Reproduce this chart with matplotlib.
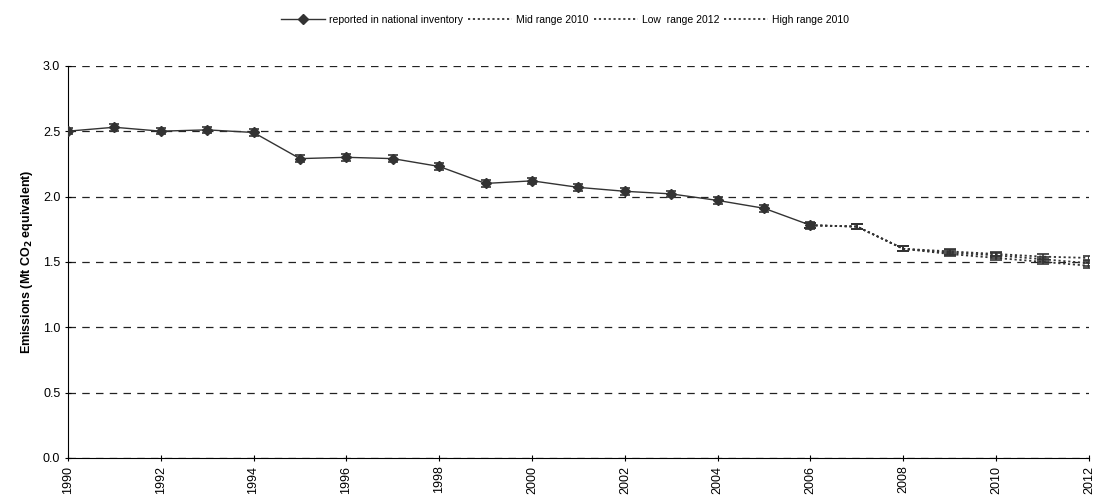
import numpy as np
import matplotlib.pyplot as plt
from matplotlib.ticker import MultipleLocator

plt.rcParams['font.family'] = ['Liberation Sans', 'DejaVu Sans']

# Inventory series 1990-2006
years_inv = list(range(1990, 2007))
inventory = [2.50, 2.53, 2.50, 2.51, 2.49, 2.29, 2.30, 2.29, 2.23, 2.10,
             2.12, 2.07, 2.04, 2.02, 1.97, 1.91, 1.78]
inv_err = [0.025] * len(inventory)

# Projection scenarios 2006-2012
years_proj = list(range(2006, 2013))
mid_2010 = [1.78, 1.77, 1.60, 1.57, 1.55, 1.52, 1.49]
low_2012 = [1.78, 1.77, 1.60, 1.56, 1.53, 1.50, 1.47]
high_2010 = [1.78, 1.77, 1.60, 1.58, 1.56, 1.54, 1.53]
proj_err = [0.018] * len(mid_2010)

dark = '#333333'

fig = plt.figure(figsize=(10.95, 4.95), dpi=100)
ax = fig.add_axes([0.062, 0.075, 0.9325, 0.792])

ax.errorbar(years_inv, inventory, yerr=inv_err, color=dark, lw=1.0,
            marker='D', ms=5, mfc=dark, mec=dark, capsize=3.5, elinewidth=1.2,
            capthick=1.2, label='reported in national inventory', zorder=4)
ax.errorbar(years_proj, mid_2010, yerr=proj_err, color=dark, lw=1.3,
            ls=(0, (1.2, 1.5)), capsize=4, elinewidth=1.2, capthick=1.2,
            label='Mid range 2010', zorder=3)
ax.errorbar(years_proj, low_2012, yerr=proj_err, color=dark, lw=1.3,
            ls=(0, (1.2, 1.5)), capsize=4, elinewidth=1.2, capthick=1.2,
            label='Low  range 2012', zorder=3)
ax.errorbar(years_proj, high_2010, yerr=proj_err, color=dark, lw=1.3,
            ls=(0, (1.2, 1.5)), capsize=4, elinewidth=1.2, capthick=1.2,
            label='High range 2010', zorder=3)

ax.set_xlim(1990, 2012)
ax.set_ylim(0, 3.0)
ax.set_xticks(range(1990, 2013, 2))
ax.set_xticklabels([str(y) for y in range(1990, 2013, 2)], rotation=90, fontsize=9)
ax.yaxis.set_major_locator(MultipleLocator(0.5))
ax.yaxis.set_major_formatter(plt.FormatStrFormatter('%.1f'))
ax.tick_params(axis='y', labelsize=9, length=4, direction='inout')
ax.tick_params(axis='x', length=4, direction='inout')
ax.yaxis.grid(True, color='#222222', ls=(0, (6, 5)), lw=0.9)
ax.set_axisbelow(True)
for s in ('top', 'right'):
    ax.spines[s].set_visible(False)
ax.set_ylabel('Emissions (Mt CO$_\\mathbf{2}$ equivalent)', fontsize=9,
              fontweight='bold', labelpad=6)

handles, labels = ax.get_legend_handles_labels()
handles = [h[0] for h in handles]
ax.legend(handles, labels, loc='center', bbox_to_anchor=(0.487, 1.117),
          ncol=4, frameon=False, fontsize=7.5, handlelength=4.2,
          columnspacing=0.5, handletextpad=0.4)

fig.savefig('out.png', dpi=100)
